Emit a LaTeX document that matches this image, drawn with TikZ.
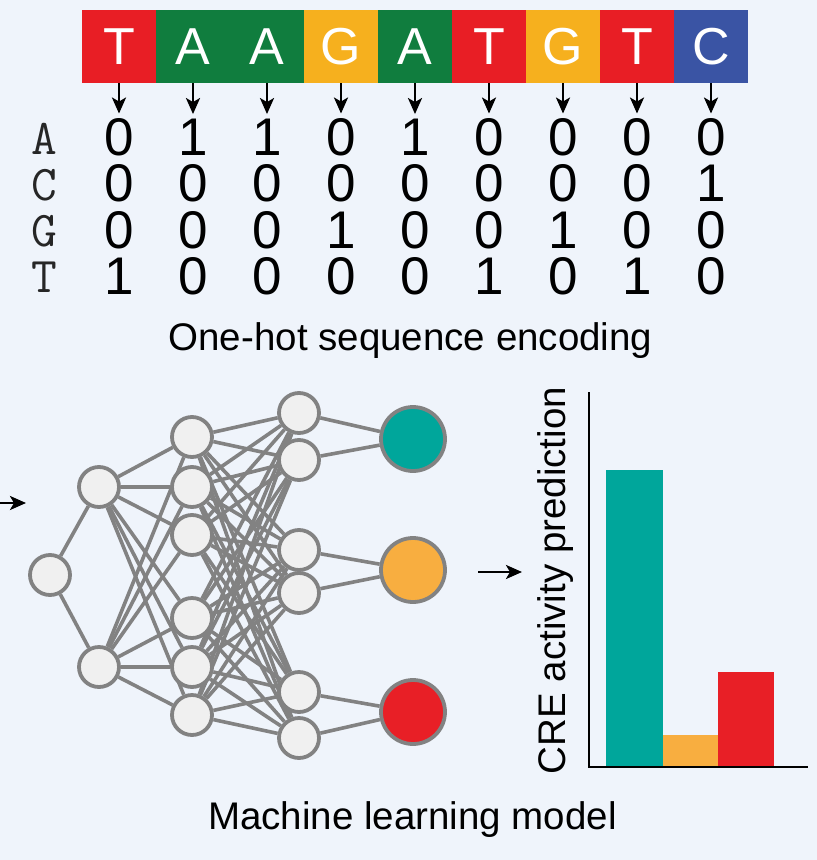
\documentclass[tikz,border=0pt]{standalone}
\usepackage{fontspec}
\setmainfont{Liberation Sans}
\usetikzlibrary{arrows.meta}
\definecolor{bgc}{RGB}{239,244,251}
\definecolor{cred}{RGB}{232,30,37}
\definecolor{cgreen}{RGB}{16,125,62}
\definecolor{corange}{RGB}{246,176,30}
\definecolor{cblue}{RGB}{58,84,164}
\definecolor{cteal}{RGB}{0,166,155}
\definecolor{borange}{RGB}{248,174,64}
\definecolor{bred}{RGB}{232,31,38}
\definecolor{edgegray}{RGB}{130,130,130}
\definecolor{nodefill}{RGB}{240,240,240}
\pgfdeclarelayer{back}
\pgfdeclarelayer{edges}
\pgfsetlayers{back,edges,main}
\tikzset{
  cell/.style={minimum width=74.6pt, minimum height=73.5pt, inner sep=0pt, text=white,
    font=\fontsize{52}{52}\selectfont},
  digit/.style={inner sep=0pt, font=\fontsize{53}{53}\selectfont},
  rowlab/.style={inner sep=0pt, text=black!85, font=\ttfamily\fontsize{50}{50}\selectfont},
  arr/.style={line width=2.6pt, -{Stealth[length=16pt,width=14pt,inset=4pt]}},
  neuron/.style={circle, draw=edgegray, line width=3.8pt, fill=nodefill, minimum size=40pt, inner sep=0pt},
  outneuron/.style={circle, draw=edgegray, line width=3.8pt, minimum size=64pt, inner sep=0pt},
  link/.style={draw=edgegray, line width=3.6pt},
  label/.style={font=\fontsize{38.5}{40}\selectfont, anchor=base},
}
\begin{document}
\begin{tikzpicture}[x=1pt,y=-1pt]
\begin{pgfonlayer}{back}
\fill[bgc] (0,0) rectangle (817,860);
\end{pgfonlayer}
\useasboundingbox (0,0) rectangle (817,860);

% sequence cells
\foreach \i/\b/\c in {1/T/cred,2/A/cgreen,3/A/cgreen,4/G/corange,5/A/cgreen,6/T/cred,7/G/corange,8/T/cred,9/C/cblue}{
  \node[cell, fill=\c] (s\i) at ({82+37+74*(\i-1)},46.5) {\b};
}

% one-hot matrix
\foreach \r/\vals [count=\k] in {A/{0,1,1,0,1,0,0,0,0},C/{0,0,0,0,0,0,0,0,1},G/{0,0,0,1,0,0,1,0,0},T/{1,0,0,0,0,1,0,1,0}}{
  \node[rowlab] (lab\k) at (44,{139+46.2*(\k-1)}) {\r};
  \foreach \v [count=\j] in \vals {
    \node[digit] (d\k-\j) at ({82+37+74*(\j-1)},{137.5+46.2*(\k-1)}) {\v};
  }
}
\foreach \j in {1,...,9}{
  \draw[arr, shorten >=5pt] (s\j.south) -- (d1-\j.north);
}

\node[label] (enc) at (410.5,350) {One-hot sequence encoding};

% network
\node[neuron] (n0) at (50,575) {};
\node[neuron] (n1a) at (99,487) {};
\node[neuron] (n1b) at (99,667) {};
\foreach \y [count=\i] in {437,487,535,618,667,715}{
  \node[neuron] (n2-\i) at (192,\y) {};
}
\foreach \y [count=\i] in {413,460,550,593,692,738}{
  \node[neuron] (n3-\i) at (299,\y) {};
}
\node[outneuron, fill=cteal] (o1) at (413,439) {};
\node[outneuron, fill=borange] (o2) at (413,570) {};
\node[outneuron, fill=bred] (o3) at (413,712) {};

\begin{pgfonlayer}{edges}
\draw[link] (n0) -- (n1a);
\draw[link] (n0) -- (n1b);
\foreach \i in {1,...,6}{
  \draw[link] (n1a) -- (n2-\i);
  \draw[link] (n1b) -- (n2-\i);
  \foreach \j in {1,...,6}{
    \draw[link] (n2-\i) -- (n3-\j);
  }
}
\draw[link] (n3-1) -- (o1);
\draw[link] (n3-2) -- (o1);
\draw[link] (n3-3) -- (o2);
\draw[link] (n3-4) -- (o2);
\draw[link] (n3-5) -- (o3);
\draw[link] (n3-6) -- (o3);
\end{pgfonlayer}

\coordinate (inL) at (0,503);
\coordinate (inR) at (26,503);
\draw[arr] (inL) -- (inR);
\coordinate (midL) at (478,572);
\coordinate (midR) at (522,572);
\draw[arr] (midL) -- (midR);

\node[label] (mlm) at (412.5,829) {Machine learning model};

% bar chart
\fill[cteal] (606,470) rectangle (663,767);
\fill[borange] (663,735) rectangle (718,767);
\fill[bred] (718,672) rectangle (774,767);
\draw[line width=2.8pt] (589,392) -- (589,767) -- (808,767);
\node[label, rotate=90] (cre) at (565,580.5) {CRE activity prediction};
\end{tikzpicture}
\end{document}
